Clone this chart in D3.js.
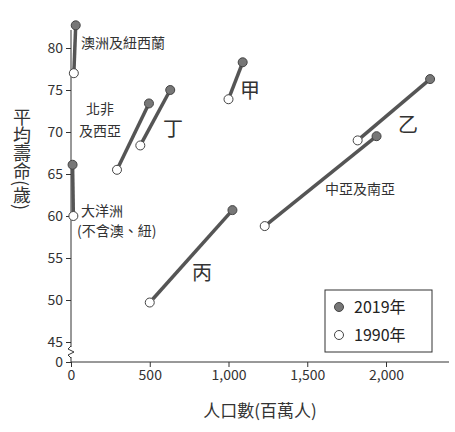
<!DOCTYPE html>
<html><head><meta charset="utf-8">
<script src="https://cdn.jsdelivr.net/npm/d3@7"></script>
<style>body{margin:0;background:#fff}text{font-family:"Noto Sans CJK TC","Noto Sans",sans-serif}</style>
</head><body><svg id="c" width="455" height="432"></svg>
<script>
// 地區、1990 與 2019 的人口(百萬)與平均壽命
const regions = ["澳洲及紐西蘭","大洋洲","北非及西亞","丁","甲","乙","中亞及南亞","丙"];
const pop1990 = [18, 15, 292, 440, 1000, 1820, 1230, 500];
const life1990 = [77, 60, 65.5, 68.4, 73.9, 69, 58.8, 49.7];
const pop2019 = [30, 10, 495, 630, 1090, 2280, 1940, 1025];
const life2019 = [82.7, 66.1, 73.4, 75, 78.3, 76.3, 69.5, 60.7];
const xTicks = [0, 500, 1000, 1500, 2000];
const yTicks = [0, 45, 50, 55, 60, 65, 70, 75, 80];

const svg = d3.select("#c");
const x = d3.scaleLinear().domain([0, 2400]).range([71, 449]);
const y = d3.scaleLinear().domain([0, 45, 80]).range([362, 342, 48]);

const fmt = d => d3.format(",")(d);
svg.append("g").attr("transform", "translate(0,362)")
  .call(d3.axisBottom(x).tickValues(xTicks).tickFormat(fmt).tickSize(5))
  .call(g => g.select(".domain").attr("d", "M71,0H449"))
  .call(g => g.selectAll("text").attr("font-size", 14).attr("fill", "#333"));
svg.append("g").attr("transform", "translate(71,0)")
  .call(d3.axisLeft(y).tickValues(yTicks).tickSize(5))
  .call(g => g.select(".domain").attr("d", "M0,30V347M0,357V362"))
  .call(g => g.selectAll("text").attr("font-size", 14).attr("fill", "#333"));
svg.selectAll(".domain,.tick line").attr("stroke", "#333");
// 軸斷裂記號
svg.append("path").attr("d", "M71,346 l-3,3 l6,3 l-6,3 l3,3")
  .attr("fill", "none").attr("stroke", "#333");

const idx = d3.range(regions.length);
svg.selectAll(".seg").data(idx).join("line")
  .attr("x1", i => x(pop1990[i])).attr("y1", i => y(life1990[i]))
  .attr("x2", i => x(pop2019[i])).attr("y2", i => y(life2019[i]))
  .attr("stroke", "#555").attr("stroke-width", 3.5);
svg.selectAll(".p90").data(idx).join("circle")
  .attr("cx", i => x(pop1990[i])).attr("cy", i => y(life1990[i])).attr("r", 4.5)
  .attr("fill", "#fff").attr("stroke", "#444").attr("stroke-width", 1);
svg.selectAll(".p19").data(idx).join("circle")
  .attr("cx", i => x(pop2019[i])).attr("cy", i => y(life2019[i])).attr("r", 4.5)
  .attr("fill", "#777").attr("stroke", "#444").attr("stroke-width", 1);

const labels = [
  ["澳洲及紐西蘭", 81, 48, 14], ["北非", 86, 114, 14], ["及西亞", 79, 136, 14],
  ["丁", 163, 136, 20], ["甲", 240, 98, 20], ["乙", 398, 132, 20],
  ["中亞及南亞", 325, 194, 14], ["大洋洲", 81, 216, 14], ["(不含澳、紐)", 77, 236, 14],
  ["丙", 192, 280, 20]
];
svg.selectAll(".lab").data(labels).join("text")
  .attr("x", d => d[1]).attr("y", d => d[2]).attr("font-size", d => d[3])
  .attr("fill", "#333").text(d => d[0]);

svg.append("text").attr("x", 260).attr("y", 417).attr("text-anchor", "middle")
  .attr("font-size", 17).attr("fill", "#333").text("人口數(百萬人)");
svg.append("text").attr("x", 22).attr("y", 108)
  .style("writing-mode", "vertical-rl").attr("font-size", 18).attr("fill", "#333")
  .text("平均壽命(歲)");

const lg = svg.append("g");
lg.append("rect").attr("x", 325).attr("y", 290).attr("width", 107).attr("height", 62)
  .attr("fill", "#fff").attr("stroke", "#333");
[["2019年", "#777"], ["1990年", "#fff"]].forEach((d, i) => {
  lg.append("circle").attr("cx", 339).attr("cy", 307 + i * 28).attr("r", 4.5)
    .attr("fill", d[1]).attr("stroke", "#444");
  lg.append("text").attr("x", 354).attr("y", 313 + i * 28).attr("font-size", 16)
    .attr("fill", "#222").text(d[0]);
});
</script></body></html>
